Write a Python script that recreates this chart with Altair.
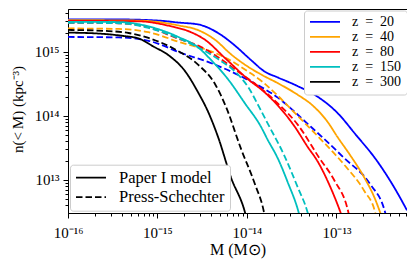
import altair as alt
import pandas as pd

FONT = "Liberation Serif"

z_values = [20, 40, 80, 150, 300]
z_names = ["z\u2002=\u200220", "z\u2002=\u200240", "z\u2002=\u200280",
           "z\u2002=\u2002150", "z\u2002=\u2002300"]
line_colors = ["#0000ff", "#ffa500", "#ff0000", "#00bfbf", "#000000"]
model_names = ["Paper I model", "Press-Schechter"]

# ---- Paper I model (solid) ----
paper_M_20 = [1e-16, 3.7e-16, 1.03e-15, 1.71e-15, 2.86e-15, 4.76e-15, 7.36e-15, 1.11e-14, 1.58e-14,
              2.21e-14, 3.69e-14, 6.15e-14, 1.03e-13, 1.63e-13, 2.86e-13, 4.41e-13, 6.15e-13]
paper_n_20 = [3.22e15, 3.21e15, 3.08e15, 2.87e15, 2.68e15, 1.97e15, 1.25e15, 7.45e14, 4.92e14,
              3.99e14, 2.92e14, 2.0e14, 1.11e14, 5.18e13, 1.96e13, 7.71e12, 3.36e12]

paper_M_40 = [1e-16, 6.15e-16, 1.71e-15, 2.86e-15, 4.41e-15, 6.64e-15, 1.03e-14, 1.51e-14, 2.21e-14,
              3.69e-14, 5.41e-14, 7.94e-14, 1.03e-13, 1.43e-13, 2.05e-13, 2.64e-13, 3.16e-13]
paper_n_40 = [3.13e15, 3.08e15, 2.59e15, 2.18e15, 1.54e15, 9.17e14, 5.85e14, 4.28e14, 3.25e14,
              2.14e14, 1.46e14, 8.13e13, 4.67e13, 2.42e13, 1.09e13, 5.46e12, 2.83e12]

paper_M_80 = [1e-16, 6.15e-16, 1.43e-15, 2.21e-15, 3.41e-15, 5.70e-15, 1.03e-14, 1.51e-14, 2.21e-14,
              3.41e-14, 4.76e-14, 6.15e-14, 8.57e-14, 1.11e-13, 1.15e-13]
paper_n_80 = [3.05e15, 3.0e15, 2.5e15, 2.11e15, 1.54e15, 7.98e14, 3.73e14, 2.46e14, 1.46e14,
              6.83e13, 3.30e13, 1.96e13, 7.71e12, 3.13e12, 2.73e12]

paper_M_150 = [1e-16, 3.7e-16, 7.94e-16, 1.71e-15, 2.86e-15, 3.98e-15, 6.15e-15, 9.5e-15, 1.43e-14,
               1.71e-14, 2.21e-14, 2.86e-14, 3.78e-14, 3.88e-14]
paper_n_150 = [2.95e15, 2.92e15, 2.5e15, 1.71e15, 1.17e15, 7.45e14, 3.73e14, 1.57e14, 6.83e13,
               4.21e13, 2.18e13, 9.17e12, 3.13e12, 2.73e12]

paper_M_300 = [1e-16, 2.21e-16, 4.19e-16, 6.15e-16, 9.03e-16, 1.33e-15, 2.05e-15, 2.86e-15, 3.69e-15,
               4.76e-15, 6.64e-15, 9.5e-15, 9.75e-15]
paper_n_300 = [2.0e15, 1.93e15, 1.77e15, 1.62e15, 1.21e15, 8.86e14, 4.92e14, 2.30e14, 1.15e14,
               4.67e13, 1.09e13, 3.13e12, 2.73e12]

# ---- Press-Schechter (dashed) ----
ps_M_20 = [1e-16, 3.7e-16, 7.94e-16, 1.85e-15, 4.19e-15, 9.5e-15, 2.21e-14, 5.14e-14, 8.57e-14,
           1.23e-13, 2.39e-13, 3.50e-13, 3.59e-13]
ps_n_20 = [1.71e15, 1.68e15, 1.49e15, 9.6e14, 6.49e14, 3.86e14, 1.93e14, 6.83e13, 3.54e13,
           2.18e13, 8.55e12, 3.13e12, 2.73e12]

ps_M_40 = [1e-16, 3.7e-16, 7.94e-16, 1.85e-15, 3.98e-15, 6.15e-15, 1.03e-14, 1.51e-14, 2.21e-14,
           3.69e-14, 6.64e-14, 1.23e-13, 2.05e-13, 2.71e-13, 2.77e-13]
ps_n_40 = [2.32e15, 2.28e15, 2.03e15, 1.39e15, 1.02e15, 7.71e14, 4.92e14, 3.36e14, 2.07e14,
           1.0e14, 4.36e13, 1.71e13, 6.72e12, 3.13e12, 2.73e12]

ps_M_80 = [1e-16, 3.7e-16, 7.94e-16, 1.71e-15, 2.86e-15, 4.76e-15, 7.94e-15, 1.33e-14, 2.21e-14,
           3.69e-14, 6.47e-14, 9.5e-14, 1.36e-13, 1.39e-13]
ps_n_80 = [2.85e15, 2.8e15, 2.42e15, 1.60e15, 1.25e15, 8.27e14, 4.92e14, 2.92e14, 1.57e14,
           7.32e13, 2.18e13, 9.82e12, 3.13e12, 2.73e12]

ps_M_150 = [1e-16, 3.7e-16, 7.94e-16, 2.21e-15, 4.76e-15, 7.36e-15, 1.03e-14, 1.39e-14, 1.71e-14,
            2.64e-14, 3.69e-14, 4.76e-14, 4.89e-14]
ps_n_150 = [2.85e15, 2.8e15, 2.36e15, 1.39e15, 7.71e14, 4.92e14, 2.83e14, 1.32e14, 7.58e13,
            2.34e13, 7.71e12, 3.13e12, 2.73e12]

ps_M_300 = [1e-16, 2.86e-16, 4.76e-16, 7.94e-16, 1.58e-15, 2.86e-15, 4.41e-15, 5.85e-15, 8.57e-15,
            1.23e-14, 1.55e-14, 1.58e-14]
ps_n_300 = [2.20e15, 2.11e15, 1.97e15, 1.65e15, 1.09e15, 6.27e14, 3.13e14, 1.37e14, 3.08e13,
            8.55e12, 3.13e12, 2.73e12]

paper_M = [paper_M_20, paper_M_40, paper_M_80, paper_M_150, paper_M_300]
paper_n = [paper_n_20, paper_n_40, paper_n_80, paper_n_150, paper_n_300]
ps_M = [ps_M_20, ps_M_40, ps_M_80, ps_M_150, ps_M_300]
ps_n = [ps_n_20, ps_n_40, ps_n_80, ps_n_150, ps_n_300]

# axis ticks
x_major = [1e-16, 1e-15, 1e-14, 1e-13]
x_major_labels = ["10\u207b\u00b9\u2076", "10\u207b\u00b9\u2075", "10\u207b\u00b9\u2074", "10\u207b\u00b9\u00b3"]
y_major = [1e13, 1e14, 1e15]
y_major_labels = ["10\u00b9\u00b3", "10\u00b9\u2074", "10\u00b9\u2075"]
x_domain = [1e-16, 6.15e-13]
y_domain = [3.05e12, 4.67e15]
x_minor = [k * 10.0 ** e for e in range(-16, -12) for k in range(2, 10) if k * 10.0 ** e <= x_domain[1]]
y_minor = [k * 10.0 ** e for e in range(12, 16) for k in range(2, 10)
           if y_domain[0] <= k * 10.0 ** e <= y_domain[1]]

rows = []
for i in range(len(z_values)):
    for M, n in zip(paper_M[i], paper_n[i]):
        rows.append({"M": M, "n": n, "zlab": z_names[i], "model": model_names[0]})
    for M, n in zip(ps_M[i], ps_n[i]):
        rows.append({"M": M, "n": n, "zlab": z_names[i], "model": model_names[1]})
df = pd.DataFrame(rows)


def tick_expr(vals, labels):
    expr = "''"
    for v, lab in reversed(list(zip(vals, labels))):
        expr = f"datum.value < {v * 3} ? '{lab}' : ({expr})"
    return expr


xscale = alt.Scale(type="log", domain=x_domain, nice=False)
yscale = alt.Scale(type="log", domain=y_domain, nice=False)

common_axis = dict(tickColor="black", tickWidth=1, domainColor="black", domainWidth=1,
                   grid=False, labelFont=FONT, labelColor="black", titleFont=FONT,
                   titleColor="black", titleFontWeight="normal")

x_axis = alt.Axis(values=x_major, labelExpr=tick_expr(x_major, x_major_labels), tickSize=5,
                  labelFontSize=15, labelPadding=7, labelFlush=False, labelOverlap=False,
                  title="M (M\u2299)", titleFontSize=16, titleY=41, titleBaseline="alphabetic",
                  orient="bottom", **common_axis)
y_axis = alt.Axis(values=y_major, labelExpr=tick_expr(y_major, y_major_labels), tickSize=5,
                  labelFontSize=15, labelPadding=4, labelFlush=False, labelOverlap=False,
                  title="n(<\u2009M) (kpc\u207b\u00b3)", titleFontSize=15, titleX=-43, titleY=100,
                  titleBaseline="bottom", orient="left", **common_axis)

color_legend = alt.Legend(title=None, orient="none", legendX=236, legendY=1.5, padding=5,
                          fillColor="white", strokeColor="#cccccc", cornerRadius=3,
                          symbolType="stroke", symbolSize=900, symbolStrokeWidth=1.8,
                          labelFont=FONT, labelFontSize=14, labelColor="black", labelOffset=11,
                          clipHeight=12.6, rowPadding=0, labelLimit=300)
dash_legend = alt.Legend(title=None, orient="none", legendX=2, legendY=155.7, padding=5,
                         fillColor="white", strokeColor="#cccccc", cornerRadius=3,
                         symbolType="stroke", symbolSize=900, symbolStrokeWidth=1.8,
                         symbolStrokeColor="black", labelFont=FONT, labelFontSize=16.5,
                         labelColor="black", labelOffset=12, clipHeight=16, rowPadding=2.5,
                         labelLimit=300)

lines = alt.Chart(df).mark_line(clip=True, strokeWidth=1.8, interpolate="monotone").encode(
    x=alt.X("M:Q", scale=xscale, axis=x_axis),
    y=alt.Y("n:Q", scale=yscale, axis=y_axis),
    color=alt.Color("zlab:N", scale=alt.Scale(domain=z_names, range=line_colors), legend=color_legend),
    strokeDash=alt.StrokeDash("model:N", scale=alt.Scale(domain=model_names, range=[[1, 0], [6.5, 3]]),
                              legend=dash_legend),
)

minor = alt.Chart(df).mark_point(opacity=0, clip=True).encode(
    x=alt.X("M:Q", scale=xscale, title=None,
            axis=alt.Axis(values=x_minor, labels=False, tickSize=3, tickWidth=1, tickColor="black",
                          domain=False, grid=False, orient="bottom")),
    y=alt.Y("n:Q", scale=yscale, title=None,
            axis=alt.Axis(values=y_minor, labels=False, tickSize=3, tickWidth=1, tickColor="black",
                          domain=False, grid=False, orient="left")),
)

chart = alt.layer(lines, minor).resolve_axis(x="independent", y="independent").properties(
    width=339, height=204,
    padding={"left": 60, "top": 1, "right": 0, "bottom": 46},
    autosize=alt.AutoSizeParams(type="none"),
    background="white",
).configure_view(stroke="black", strokeWidth=1)

chart.save("out.html", embed_options={"renderer": "svg", "actions": False})
